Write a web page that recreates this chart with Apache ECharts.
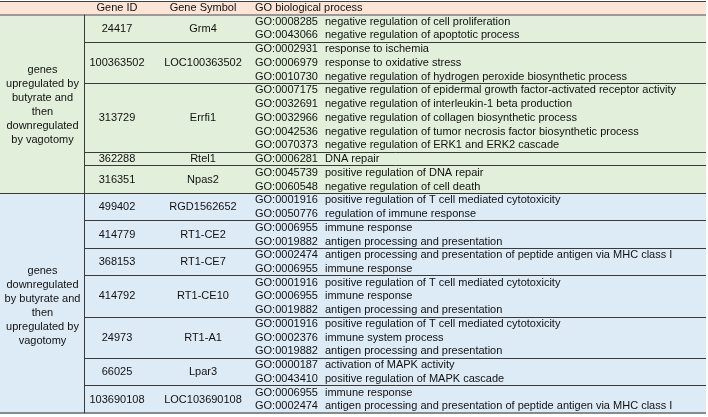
<!DOCTYPE html>
<html><head><meta charset="utf-8">
<script src="https://cdn.jsdelivr.net/npm/echarts@6/dist/echarts.min.js"></script>
<style>html,body{margin:0;padding:0;background:#fff}#c{width:708px;height:417px}</style>
</head><body><div id="c"></div>
<script>
// ---------- data ----------
const headers = ['', 'Gene ID', 'Gene Symbol', 'GO biological process'];
const groupLabels = [
  'genes\nupregulated by\nbutyrate and\nthen\ndownregulated\nby vagotomy',
  'genes\ndownregulated\nby butyrate and\nthen\nupregulated by\nvagotomy'
];
const geneGroup = [0, 0, 0, 0, 0, 1, 1, 1, 1, 1, 1, 1];
const geneIds = ['24417', '100363502', '313729', '362288', '316351', '499402', '414779', '368153', '414792', '24973', '66025', '103690108'];
const geneSymbols = ['Grm4', 'LOC100363502', 'Errfi1', 'Rtel1', 'Npas2', 'RGD1562652', 'RT1-CE2', 'RT1-CE7', 'RT1-CE10', 'RT1-A1', 'Lpar3', 'LOC103690108'];
const goIds = [
  ['GO:0008285', 'GO:0043066'],
  ['GO:0002931', 'GO:0006979', 'GO:0010730'],
  ['GO:0007175', 'GO:0032691', 'GO:0032966', 'GO:0042536', 'GO:0070373'],
  ['GO:0006281'],
  ['GO:0045739', 'GO:0060548'],
  ['GO:0001916', 'GO:0050776'],
  ['GO:0006955', 'GO:0019882'],
  ['GO:0002474', 'GO:0006955'],
  ['GO:0001916', 'GO:0006955', 'GO:0019882'],
  ['GO:0001916', 'GO:0002376', 'GO:0019882'],
  ['GO:0000187', 'GO:0043410'],
  ['GO:0006955', 'GO:0002474']
];
const goNames = [
  ['negative regulation of cell proliferation', 'negative regulation of apoptotic process'],
  ['response to ischemia', 'response to oxidative stress', 'negative regulation of hydrogen peroxide biosynthetic process'],
  ['negative regulation of epidermal growth factor-activated receptor activity', 'negative regulation of interleukin-1 beta production', 'negative regulation of collagen biosynthetic process', 'negative regulation of tumor necrosis factor biosynthetic process', 'negative regulation of ERK1 and ERK2 cascade'],
  ['DNA repair'],
  ['positive regulation of DNA repair', 'negative regulation of cell death'],
  ['positive regulation of T cell mediated cytotoxicity', 'regulation of immune response'],
  ['immune response', 'antigen processing and presentation'],
  ['antigen processing and presentation of peptide antigen via MHC class I', 'immune response'],
  ['positive regulation of T cell mediated cytotoxicity', 'immune response', 'antigen processing and presentation'],
  ['positive regulation of T cell mediated cytotoxicity', 'immune system process', 'antigen processing and presentation'],
  ['activation of MAPK activity', 'positive regulation of MAPK cascade'],
  ['immune response', 'antigen processing and presentation of peptide antigen via MHC class I']
];

// ---------- layout / style ----------
const X = { left: 0, col1: 84.5, labC: 42.5, idC: 117, symC: 203, goId: 255, goName: 325, right: 706 };
const labelDy = [1, 3];
const groupColors = ['#E2EFDA', '#DDEBF7'];
const headColor = '#FCE4D6';
const font = '11px "Liberation Sans", Arial, sans-serif';
const txt = '#111111';
const dark = '#3a3a3a';

// ---------- derived rows ----------
const goRows = [];   // [row, gene, term]
const geneSpans = []; // [start, end, gene]
let r = 1;
geneIds.forEach((g, i) => {
  const s = r;
  goIds[i].forEach((id, j) => { goRows.push([r, i, j]); r++; });
  geneSpans.push([s, r, i]);
});
const totalRows = r;
const groupSpans = [];
groupLabels.forEach((lab, gi) => {
  const sp = geneSpans.filter(s => geneGroup[s[2]] === gi);
  groupSpans.push([sp[0][0], sp[sp.length - 1][1], gi]);
});

function px(v) { return Math.round(v - 0.5) + 0.5; }
function hline(api, x0, x1, y, color, w) {
  const a = api.coord([x0, y]), b = api.coord([x1, y]);
  const yy = w % 2 ? px(a[1]) : Math.round(a[1]);
  return { type: 'line', shape: { x1: a[0], y1: yy, x2: b[0], y2: yy }, style: { stroke: color, lineWidth: w } };
}

const chart = echarts.init(document.getElementById('c'), null, { renderer: 'canvas' });
chart.setOption({
  animation: false,
  grid: { left: 0, right: 0, top: 1, bottom: 3.75 },
  xAxis: { type: 'value', min: 0, max: 708, show: false },
  yAxis: { type: 'value', min: 0, max: totalRows, inverse: true, show: false },
  series: [
    { // group blocks
      type: 'custom', data: groupSpans, z: 1,
      renderItem: (params, api) => {
        const s = api.value(0), e = api.value(1), gi = api.value(2);
        const a = api.coord([X.left, s]), b = api.coord([X.right, e]);
        const m = api.coord([X.labC, (s + e) / 2]);
        const ch = [
          { type: 'rect', shape: { x: a[0], y: a[1], width: b[0] - a[0], height: b[1] - a[1] }, style: { fill: groupColors[gi] } },
          { type: 'text', style: { x: m[0], y: m[1] + labelDy[gi], text: groupLabels[gi], font: font, fill: txt, align: 'center', verticalAlign: 'middle', lineHeight: 14 } }
        ];
        if (gi > 0) ch.push(hline(api, X.left, X.right, s, dark, 1));
        return { type: 'group', children: ch };
      }
    },
    { // header + frame
      type: 'custom', data: [[0]], z: 3,
      renderItem: (params, api) => {
        const a = api.coord([X.left, 0]), b = api.coord([X.right, 1]);
        const mid = (a[1] + b[1]) / 2;
        const ch = [
          { type: 'rect', shape: { x: a[0], y: a[1], width: b[0] - a[0], height: b[1] - a[1] }, style: { fill: headColor } },
          { type: 'text', style: { x: api.coord([X.idC, 0])[0], y: mid, text: headers[1], font: font, fill: txt, align: 'center', verticalAlign: 'middle' } },
          { type: 'text', style: { x: api.coord([X.symC, 0])[0], y: mid, text: headers[2], font: font, fill: txt, align: 'center', verticalAlign: 'middle' } },
          { type: 'text', style: { x: api.coord([X.goId, 0])[0], y: mid, text: headers[3], font: font, fill: txt, align: 'left', verticalAlign: 'middle' } },
          hline(api, X.left, X.right, 0, '#404040', 1),
          hline(api, X.left, X.right, 1, '#9a9a9a', 2),
          hline(api, X.left, X.right, totalRows, '#8a8a8a', 2)
        ];
        const p = api.coord([X.col1, 1]), q = api.coord([X.col1, totalRows]);
        ch.push({ type: 'line', shape: { x1: p[0], y1: p[1], x2: q[0], y2: q[1] }, style: { stroke: dark, lineWidth: 1 } });
        return { type: 'group', children: ch };
      }
    },
    { // gene blocks
      type: 'custom', data: geneSpans, z: 2,
      renderItem: (params, api) => {
        const s = api.value(0), e = api.value(1), gi = api.value(2);
        const my = api.coord([0, (s + e) / 2])[1];
        const ch = [
          { type: 'text', style: { x: api.coord([X.idC, 0])[0], y: my, text: geneIds[gi], font: font, fill: txt, align: 'center', verticalAlign: 'middle' } },
          { type: 'text', style: { x: api.coord([X.symC, 0])[0], y: my, text: geneSymbols[gi], font: font, fill: txt, align: 'center', verticalAlign: 'middle' } }
        ];
        const firstOfGroup = gi === 0 || geneGroup[gi - 1] !== geneGroup[gi];
        if (!firstOfGroup) ch.push(hline(api, X.col1, X.right, s, dark, 1));
        return { type: 'group', children: ch };
      }
    },
    { // GO rows
      type: 'custom', data: goRows, z: 2,
      renderItem: (params, api) => {
        const row = api.value(0), gi = api.value(1), ti = api.value(2);
        const my = api.coord([0, row + 0.5])[1];
        return { type: 'group', children: [
          { type: 'text', style: { x: api.coord([X.goId, 0])[0], y: my, text: goIds[gi][ti], font: font, fill: txt, align: 'left', verticalAlign: 'middle' } },
          { type: 'text', style: { x: api.coord([X.goName, 0])[0], y: my, text: goNames[gi][ti], font: font, fill: txt, align: 'left', verticalAlign: 'middle' } }
        ] };
      }
    }
  ]
});
</script></body></html>
